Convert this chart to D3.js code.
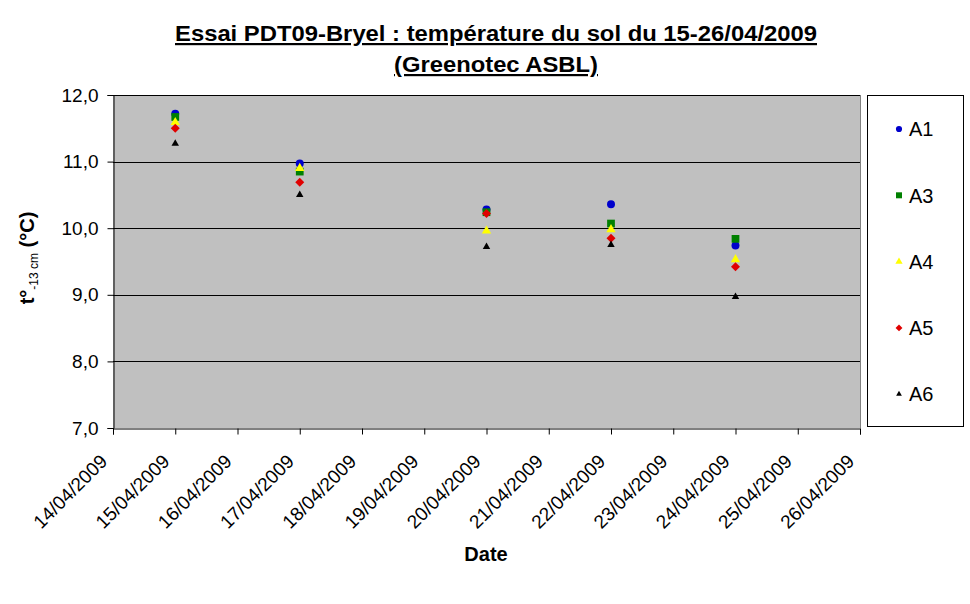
<!DOCTYPE html>
<html><head><meta charset="utf-8">
<script src="https://cdn.jsdelivr.net/npm/d3@7"></script>
<style>body{margin:0;background:#fff}svg{display:block;font-family:"Liberation Sans",Arial,sans-serif}</style>
</head><body><svg id="c" width="970" height="604"></svg>
<script>
const dates = ["15/04/2009","17/04/2009","20/04/2009","22/04/2009","24/04/2009"];
const tickLabels = ["14/04/2009","15/04/2009","16/04/2009","17/04/2009","18/04/2009","19/04/2009","20/04/2009","21/04/2009","22/04/2009","23/04/2009","24/04/2009","25/04/2009","26/04/2009"];
const yTicks = [7,8,9,10,11,12];
const A1 = [11.72, 10.97, 10.28, 10.36, 9.74];
const A3 = [11.67, 10.85, 10.24, 10.07, 9.84];
const A4 = [11.59, 10.90, 9.96, 9.98, 9.53];
const A5 = [11.50, 10.69, 10.22, 9.85, 9.42];
const A6 = [11.27, 10.50, 9.72, 9.75, 8.97];
const seriesNames = ["A1","A3","A4","A5","A6"];
const seriesValues = [A1,A3,A4,A5,A6];
const seriesColors = ["#0000cc","#008000","#ffff00","#e00000","#000000"];
const seriesSymbols = [d3.symbolCircle, d3.symbolSquare, d3.symbolTriangle, d3.symbolSquare, d3.symbolTriangle];
const seriesRot = [0,0,0,45,0];
const seriesSizes = [50, 60, 38, 40, 24];

const parse = d3.timeParse("%d/%m/%Y");
const svg = d3.select("#c");
const L=113, R=860, T=95, B=428;
const x = d3.scaleTime().domain([parse(tickLabels[0]), parse(tickLabels[tickLabels.length-1])]).range([L,R]);
const y = d3.scaleLinear().domain([7,12]).range([B,T]);
const fmt = d3.format(".1f");

svg.append("rect").attr("x",L).attr("y",T).attr("width",R-L).attr("height",B-T).attr("fill","#c0c0c0");
svg.append("line").attr("x1",R+0.5).attr("x2",R+0.5).attr("y1",T).attr("y2",B).attr("stroke","#808080");
svg.append("g").selectAll("line").data(yTicks.slice(1)).join("line")
  .attr("x1",L).attr("x2",R).attr("y1",d=>Math.round(y(d))+0.5).attr("y2",d=>Math.round(y(d))+0.5)
  .attr("stroke","#000").attr("stroke-width",1);

const yAxis = svg.append("g").attr("transform",`translate(${L+0.5},0)`)
  .call(d3.axisLeft(y).tickValues(yTicks).tickSize(6).tickPadding(9).tickFormat(d=>fmt(d).replace(".",",")));
yAxis.selectAll("text").attr("font-size",19).attr("fill","#000").attr("font-family","Liberation Sans, Arial");
yAxis.select(".domain").attr("stroke","#000");

const xAxis = svg.append("g").attr("transform",`translate(0,${B+0.5})`)
  .call(d3.axisBottom(x).tickValues(tickLabels.map(parse)).tickSize(6).tickFormat(d3.timeFormat("%d/%m/%Y")));
xAxis.selectAll("text").attr("font-size",19).attr("fill","#000").attr("font-family","Liberation Sans, Arial")
  .attr("text-anchor","end").attr("x",0).attr("y",0).attr("dy",0).attr("transform","translate(-5,34) rotate(-45)");
xAxis.select(".domain").attr("stroke","#000");

seriesValues.forEach((vals,i)=>{
  svg.append("g").selectAll("path").data(vals).join("path")
    .attr("transform",(d,j)=>`translate(${x(parse(dates[j]))},${y(d)}) rotate(${seriesRot[i]})`)
    .attr("d", d3.symbol().type(seriesSymbols[i]).size(seriesSizes[i])())
    .attr("fill",seriesColors[i]);
});

// legend
svg.append("rect").attr("x",867.5).attr("y",95.5).attr("width",96).attr("height",331).attr("fill","#fff").attr("stroke","#000");
seriesNames.forEach((n,i)=>{
  const ly = 129 + i*66.3;
  svg.append("path").attr("transform",`translate(899,${ly}) rotate(${seriesRot[i]})`)
    .attr("d", d3.symbol().type(seriesSymbols[i]).size(seriesSizes[i]*0.6)()).attr("fill",seriesColors[i]);
  svg.append("text").attr("x",909).attr("y",ly).attr("dy","0.36em").attr("font-size",20).text(n);
});

// titles
const t1 = svg.append("text").attr("x",496).attr("y",41).attr("text-anchor","middle").attr("font-size",22).attr("font-weight","bold").attr("text-decoration","underline")
  .attr("textLength",642).attr("lengthAdjust","spacingAndGlyphs").text("Essai PDT09-Bryel : température du sol du 15-26/04/2009");
const t2 = svg.append("text").attr("x",496).attr("y",72).attr("text-anchor","middle").attr("font-size",22).attr("font-weight","bold").attr("text-decoration","underline")
  .attr("textLength",204).attr("lengthAdjust","spacingAndGlyphs").text("(Greenotec ASBL)");

svg.append("text").attr("x",486).attr("y",561).attr("text-anchor","middle").attr("font-size",20).attr("font-weight","bold").text("Date");

const yt = svg.append("text").attr("transform","translate(34,258) rotate(-90)").attr("text-anchor","middle").attr("font-size",20).attr("font-weight","bold");
yt.append("tspan").text("t°");
yt.append("tspan").attr("font-size",12).attr("font-weight","normal").attr("dy",4).text("-13 cm");
yt.append("tspan").attr("dy",-4).text(" (°C)");
</script></body></html>
